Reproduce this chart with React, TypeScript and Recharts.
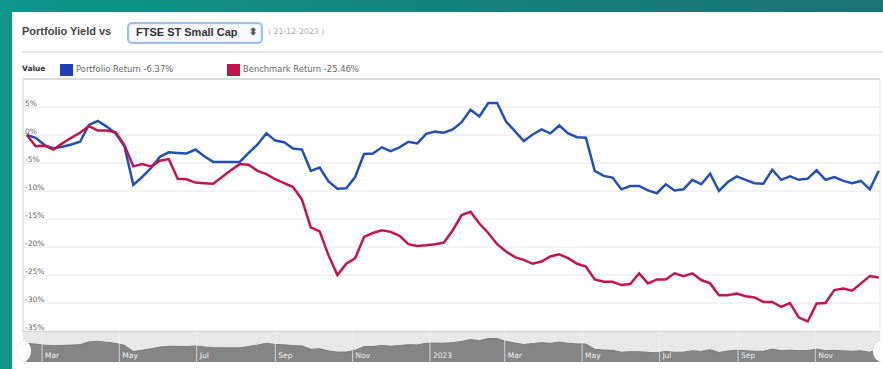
import { Area, AreaChart, CartesianGrid, Line, LineChart, ReferenceLine, XAxis, YAxis } from "recharts";

// weekly closes, first one on this date
const firstWeek = "2022-02-17";
const portfolioReturn = [
  0, -0.5, -1.8, -2.4, -2.1, -1.7, -1.2, 1.8, 2.5, 1.5,
  0.3, -2.0, -8.9, -7.5, -5.9, -3.9, -3.1, -3.2, -3.3, -2.6,
  -3.8, -4.8, -4.8, -4.8, -4.8, -3.2, -1.7, 0.3, -1.0, -1.3,
  -2.4, -2.6, -6.4, -5.8, -8.3, -9.6, -9.5, -7.5, -3.4, -3.3,
  -2.2, -2.9, -2.2, -1.2, -1.5, 0.2, 0.6, 0.4, 1.0, 2.3,
  4.5, 3.3, 5.7, 5.7, 2.4, 0.7, -1.1, 0.1, 1.0, 0.3,
  1.7, 0.3, -0.4, -0.5, -6.4, -7.3, -7.6, -9.7, -9.1, -9.1,
  -9.9, -10.4, -8.8, -9.9, -9.7, -8.0, -8.8, -6.9, -10.0, -8.4,
  -7.4, -8.0, -8.6, -8.7, -6.2, -8.0, -7.4, -8.0, -7.8, -6.3,
  -8.0, -7.5, -8.2, -8.6, -8.2, -9.7, -6.37,
];
const benchmarkReturn = [
  0, -2.0, -1.9, -2.6, -1.5, -0.5, 0.4, 1.6, 0.8, 0.8,
  0.5, -1.8, -5.6, -5.2, -5.6, -4.6, -4.3, -7.8, -7.9, -8.5,
  -8.6, -8.7, -7.5, -6.3, -5.2, -5.3, -6.4, -7.0, -7.9, -8.6,
  -9.3, -11.5, -16.5, -17.2, -21.5, -25.0, -23.0, -22.0, -18.2, -17.5,
  -17.0, -17.3, -18.0, -19.5, -19.8, -19.7, -19.5, -19.2, -17.0, -14.3,
  -13.7, -15.8, -17.5, -19.5, -20.8, -21.8, -22.3, -23.0, -22.6, -21.7,
  -21.3, -22.0, -23.0, -23.5, -25.8, -26.2, -26.2, -26.8, -26.6, -24.7,
  -26.5, -25.8, -25.8, -24.7, -25.2, -24.7, -25.9, -26.5, -28.6, -28.6,
  -28.3, -28.8, -29.0, -29.8, -29.8, -30.7, -30.0, -32.6, -33.3, -30.1,
  -30.0, -27.7, -27.4, -27.8, -26.5, -25.2, -25.46,
];
const gridMonths = ["2022-03-01", "2022-05-01", "2022-07-01", "2022-09-01", "2022-11-01", "2023-01-01", "2023-03-01", "2023-05-01", "2023-07-01", "2023-09-01", "2023-11-01"];
const monthLabels = ["Mar", "May", "Jul", "Sep", "Nov", "2023", "Mar", "May", "Jul", "Sep", "Nov"];
const yTicks = [10, 5, 0, -5, -10, -15, -20, -25, -30, -35];
const viewStart = "2022-02-14";
const viewEnd = "2023-12-22";

const WEEK = 7 * 86400000;
const data = portfolioReturn.map((portfolio, i) => ({
  t: Date.parse(firstWeek) + i * WEEK,
  portfolio,
  benchmark: benchmarkReturn[i],
}));
const gridTicks = gridMonths.map((d) => Date.parse(d));
const xDomain = [Date.parse(viewStart), Date.parse(viewEnd)];

const FONT = "'Liberation Sans', Arial, sans-serif";
const SMALL = "'DejaVu Sans', Verdana, sans-serif";
const BLUE = "#2250b5";
const RED = "#c2154f";

const renderYTick = ({ y, payload }: any) => {
  if (payload.value === 10) return <g />;
  return (
    <text x={25} y={y - 1} fontSize={7.5} fill="#5e5e5e" fontFamily={SMALL}>
      {payload.value}%
    </text>
  );
};

const renderNavTick = ({ x, payload }: any) => {
  const i = gridTicks.indexOf(payload.value);
  return (
    <text x={x + 3} y={26} fontSize={7.5} fill="#efefef" fontFamily={SMALL}>
      {monthLabels[i]}
    </text>
  );
};

export default function App() {
  return (
    <div style={{ position: "fixed", left: 0, top: 0, width: 883, height: 369, overflow: "hidden", background: "linear-gradient(90deg, #0e968b 0%, #167f7b 60%, #1b7476 100%)", fontFamily: FONT }}>
      <div style={{ position: "absolute", left: 12, top: 12, right: 0, bottom: 0, background: "#fff" }} />

      <div style={{ position: "absolute", left: 22, top: 25, fontSize: 11, fontWeight: 700, color: "#444" }}>Portfolio Yield vs</div>
      <div style={{ position: "absolute", left: 127, top: 22, width: 132, height: 18, border: "2px solid #9cc0ea", borderRadius: 5, background: "#f7f9fc", boxShadow: "inset 0 0 2px #c8dcf4" }}>
        <span style={{ position: "absolute", left: 7, top: 2, fontSize: 11, fontWeight: 700, color: "#333" }}>FTSE ST Small Cap</span>
        <span style={{ position: "absolute", left: 120, top: 2, fontSize: 10, fontWeight: 700, color: "#555" }}>⬍</span>
      </div>
      <div style={{ position: "absolute", left: 268, top: 27, fontSize: 7.8, color: "#aaa", fontFamily: SMALL }}>( 21-12-2023 )</div>
      <div style={{ position: "absolute", left: 22, right: 0, top: 51, height: 2, background: "#e8e8e8" }} />

      <div style={{ position: "absolute", left: 22, top: 64, fontSize: 7.5, fontWeight: 700, color: "#333", fontFamily: SMALL }}>Value</div>
      <div style={{ position: "absolute", left: 60, top: 64, width: 13, height: 12, background: "#1d40b8" }} />
      <div style={{ position: "absolute", left: 76, top: 64, fontSize: 8.4, color: "#666", fontFamily: SMALL }}>Portfolio Return -6.37%</div>
      <div style={{ position: "absolute", left: 227, top: 64, width: 13, height: 12, background: "#c8104f" }} />
      <div style={{ position: "absolute", left: 243, top: 64, fontSize: 8.4, color: "#666", fontFamily: SMALL }}>Benchmark Return -25.46%</div>

      <div style={{ position: "absolute", left: 0, top: 0 }}>
        <LineChart width={883} height={362} data={data} margin={{ top: 79, right: 3, bottom: 30, left: 22 }}>
          <CartesianGrid stroke="#e6e6e6" />
          <XAxis dataKey="t" type="number" domain={xDomain} ticks={gridTicks} allowDataOverflow tick={false} tickLine={false} axisLine={false} height={1} />
          <YAxis type="number" domain={[-35, 10]} ticks={yTicks} width={1} tickLine={false} axisLine={false} tick={renderYTick} interval={0} />
          <ReferenceLine x={xDomain[0]} stroke="#e0e0e0" />
          <ReferenceLine y={10} stroke="#dcdcdc" strokeWidth={2} />
          <Line type="linear" dataKey="portfolio" stroke={BLUE} strokeWidth={2.5} dot={false} isAnimationActive={false} />
          <Line type="linear" dataKey="benchmark" stroke={RED} strokeWidth={2.5} dot={false} isAnimationActive={false} />
        </LineChart>
      </div>

      <div style={{ position: "absolute", left: 0, top: 332 }}>
        <AreaChart width={883} height={31} data={data} margin={{ top: 0, right: 3, bottom: 0, left: 23 }}>
          <CartesianGrid horizontal={false} vertical={false} fill="#e8e8e8" stroke="none" />
          <XAxis dataKey="t" type="number" domain={xDomain} ticks={gridTicks} allowDataOverflow tick={renderNavTick} tickLine={false} axisLine={false} height={1} interval={0} />
          <YAxis type="number" domain={[-20.7, 13]} hide />
          <Area type="linear" dataKey="portfolio" baseValue="dataMin" stroke="#7a7a7a" strokeWidth={1} fill="#858585" fillOpacity={1} isAnimationActive={false} />
          {gridTicks.map((t) => (
            <ReferenceLine key={t} x={t} stroke="#f2f2f2" strokeOpacity={0.7} />
          ))}
        </AreaChart>
      </div>
      <div style={{ position: "absolute", left: 22, right: 3, top: 331, height: 1, background: "#d8d8d8" }} />
      <div style={{ position: "absolute", left: 17, top: 341, width: 14, height: 20, borderRadius: "50%", background: "#fff", boxShadow: "0 0 1px #bbb" }} />
      <div style={{ position: "absolute", left: 873, top: 341, width: 14, height: 20, borderRadius: "50%", background: "#fff", boxShadow: "0 0 1px #bbb" }} />
    </div>
  );
}
